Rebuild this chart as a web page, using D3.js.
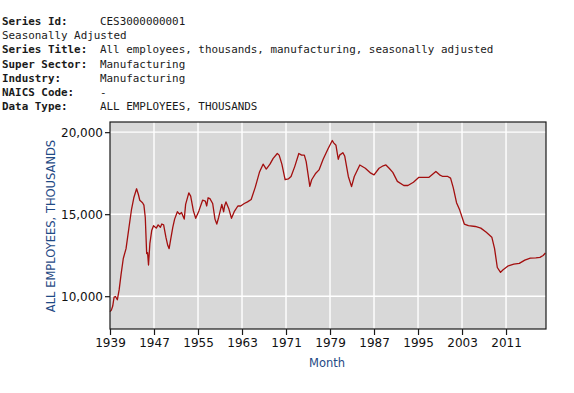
<!DOCTYPE html>
<html>
<head>
<meta charset="utf-8">
<script src="https://cdn.jsdelivr.net/npm/d3@7"></script>
<style>
  html, body { margin: 0; padding: 0; background: #fff; }
  svg { display: block; }
</style>
</head>
<body>
<svg id="chart" width="574" height="393"></svg>
<script>
// ---- header info ----
const infoLabels = ["Series Id:", "", "Series Title:", "Super Sector:", "Industry:", "NAICS Code:", "Data Type:"];
const infoValues = ["CES3000000001", "Seasonally Adjusted", "All employees, thousands, manufacturing, seasonally adjusted",
                    "Manufacturing", "Manufacturing", "-", "ALL EMPLOYEES, THOUSANDS"];

// ---- series (month, thousands) ----
const months = [
 "1939-01","1939-04","1939-07","1939-10","1940-01","1940-05","1940-09","1941-01","1941-06","1941-12",
 "1942-06","1942-12","1943-05","1943-11","1944-03","1944-06","1944-12","1945-03","1945-06","1945-09",
 "1945-11","1946-01","1946-04","1946-08","1946-12","1947-06","1947-10","1948-03","1948-06","1948-10",
 "1949-03","1949-07","1949-10","1950-01","1950-06","1950-10","1951-04","1951-09","1952-01","1952-07",
 "1952-10","1953-05","1953-09","1954-03","1954-08","1955-03","1955-11","1956-05","1956-08","1956-11",
 "1957-03","1957-09","1958-02","1958-06","1958-10","1959-05","1959-09","1959-11","1960-02","1960-08",
 "1961-02","1961-08","1962-04","1962-10","1963-06","1964-01","1964-09","1965-06","1966-03","1966-11",
 "1967-06","1968-02","1968-09","1969-06","1969-10","1970-04","1970-11","1971-06","1971-12","1972-08",
 "1973-05","1973-11","1974-05","1974-09","1975-05","1975-09","1976-06","1977-01","1977-10","1978-09",
 "1979-06","1979-09","1980-02","1980-07","1980-10","1981-05","1981-09","1982-05","1982-12","1983-06",
 "1984-06","1985-06","1986-06","1987-01","1987-12","1988-09","1989-03","1989-10","1990-06","1991-04",
 "1992-06","1993-03","1994-03","1995-03","1996-03","1997-01","1998-04","1998-12","1999-07","2000-06",
 "2000-12","2001-06","2002-01","2002-08","2003-06","2004-03","2005-06","2006-06","2007-06","2008-06",
 "2008-12","2009-06","2010-01","2010-06","2011-06","2012-06","2013-06","2014-06","2015-06","2016-06",
 "2017-03","2017-10","2018-03"
];
const employees = [
 9060,9150,9400,9950,9980,9780,10400,11300,12300,12900,
 14100,15300,16000,16550,16200,15850,15700,15550,14800,12600,
 12650,11900,13200,14000,14300,14150,14350,14200,14400,14350,
 13600,13100,12900,13400,14200,14700,15150,15000,15100,14700,
 15600,16300,16100,15200,14750,15200,15850,15800,15500,16000,
 15950,15650,14700,14400,14800,15600,15150,15500,15750,15350,
 14750,15150,15500,15500,15650,15750,15900,16650,17550,18050,
 17750,18050,18400,18700,18600,18050,17100,17150,17300,17900,
 18700,18600,18600,18200,16700,17100,17500,17700,18350,19000,
 19490,19350,19200,18350,18600,18750,18550,17300,16680,17300,
 18000,17800,17500,17400,17800,17950,18000,17800,17550,17000,
 16750,16750,16950,17250,17250,17250,17600,17400,17300,17300,
 17200,16600,15700,15250,14400,14300,14250,14150,13900,13600,
 12900,11750,11450,11600,11850,11950,12000,12200,12320,12340,
 12370,12480,12630
];

// ---- axis ticks ----
const xTickYears = [1939, 1947, 1955, 1963, 1971, 1979, 1987, 1995, 2003, 2011];
const yTickValues = [10000, 15000, 20000];
const yAxisTitle = "ALL EMPLOYEES, THOUSANDS";
const xAxisTitle = "Month";

const svg = d3.select("#chart");

// header block
const monoFont = "'DejaVu Sans Mono', 'Liberation Mono', monospace";
const header = svg.append("g").attr("font-family", monoFont).attr("font-size", "10.9px").attr("fill", "#1a1a1a");
infoLabels.forEach((lab, i) => {
  const yb = 25 + i * 14.17;
  if (lab) {
    header.append("text").attr("x", 2).attr("y", yb).attr("font-weight", "bold").text(lab);
    header.append("text").attr("x", 100).attr("y", yb).text(infoValues[i]);
  } else {
    header.append("text").attr("x", 2).attr("y", yb).text(infoValues[i]);
  }
});

// plot geometry
const L = 110, R = 546, T = 122, B = 329;
const parse = d3.timeParse("%Y-%m");
const data = months.map((m, i) => ({ date: parse(m), value: employees[i] }));

const x = d3.scaleTime()
  .domain([new Date(1939, 0, 1), new Date(2018, 3, 8)])
  .range([L, R]);
const y = d3.scaleLinear()
  .domain([8000, 20620])
  .range([B, T]);

// background
svg.append("rect").attr("x", L).attr("y", T).attr("width", R - L).attr("height", B - T).attr("fill", "#d8d8d8");

const xTicks = xTickYears.map(yr => new Date(yr, 0, 1));

// grid
const grid = svg.append("g").attr("stroke", "#ffffff").attr("stroke-width", 1.4);
grid.selectAll("line.v").data(xTicks.slice(1)).join("line")
  .attr("x1", d => x(d)).attr("x2", d => x(d)).attr("y1", T).attr("y2", B);
grid.selectAll("line.h").data(yTickValues).join("line")
  .attr("x1", L).attr("x2", R).attr("y1", d => y(d)).attr("y2", d => y(d));

// line
const line = d3.line().x(d => x(d.date)).y(d => y(d.value)).curve(d3.curveLinear);
svg.append("path").datum(data)
  .attr("d", line)
  .attr("fill", "none")
  .attr("stroke", "#a30f0f")
  .attr("stroke-width", 1.3)
  .attr("stroke-linejoin", "round");

// frame
svg.append("rect").attr("x", L).attr("y", T).attr("width", R - L).attr("height", B - T)
  .attr("fill", "none").attr("stroke", "#1a1a1a").attr("stroke-width", 1.2);

// axes
const tickFont = "'DejaVu Sans', Verdana, sans-serif";
const xAxis = d3.axisBottom(x).tickValues(xTicks).tickFormat(d3.timeFormat("%Y")).tickSizeInner(6).tickSizeOuter(0).tickPadding(3);
const gx = svg.append("g").attr("transform", `translate(0,${B})`).call(xAxis);
gx.select(".domain").remove();
gx.selectAll("line").attr("stroke", "#1a1a1a").attr("stroke-width", 1.2);
gx.selectAll("text").attr("font-family", tickFont).attr("font-size", "12px").attr("fill", "#111");

const yAxis = d3.axisLeft(y).tickValues(yTickValues).tickFormat(d3.format(",")).tickSizeInner(5).tickSizeOuter(0).tickPadding(2);
const gy = svg.append("g").attr("transform", `translate(${L},0)`).call(yAxis);
gy.select(".domain").remove();
gy.selectAll("line").attr("stroke", "#1a1a1a").attr("stroke-width", 1.2);
gy.selectAll("text").attr("font-family", tickFont).attr("font-size", "12px").attr("fill", "#111");

// axis titles
svg.append("text")
  .attr("transform", `translate(55,${(140 + 312) / 2}) rotate(-90)`)
  .attr("text-anchor", "middle")
  .attr("font-family", tickFont).attr("font-size", "11.5px").attr("fill", "#1f4a85")
  .text(yAxisTitle);

svg.append("text")
  .attr("x", (L + R) / 2 - 1).attr("y", 367)
  .attr("text-anchor", "middle")
  .attr("font-family", tickFont).attr("font-size", "11.5px").attr("fill", "#1f4a85")
  .text(xAxisTitle);
</script>
</body>
</html>
